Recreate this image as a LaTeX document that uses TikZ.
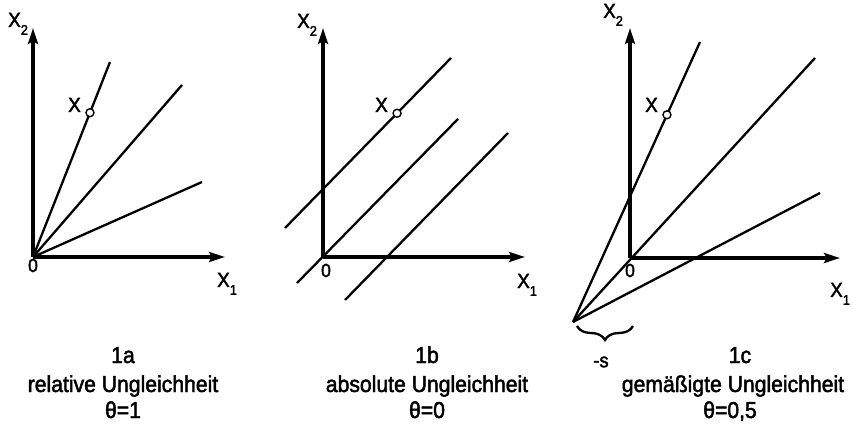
\documentclass[tikz,border=0pt]{standalone}
\usepackage{fontspec}
\setmainfont{Liberation Sans}[FakeStretch=0.92,FakeBold=2]
\usetikzlibrary{arrows.meta,decorations.pathreplacing,calc}
\newcommand{\mysub}[1]{\raisebox{-0.38em}{\fontsize{14}{14}\selectfont #1}}
\begin{document}
\begin{tikzpicture}[x=1pt,y=1pt,
  axisline/.style={line width=3.4pt,-{Stealth[length=16pt,width=10pt,inset=3pt]}},
  rayline/.style={line width=2.3pt},
  dotpt/.style={circle,draw,fill=white,line width=1.4pt,inner sep=0pt,minimum size=8pt},
  axlab/.style={font=\fontsize{20.5}{20.5}\selectfont,inner sep=0pt,anchor=base west},
  zerolab/.style={font=\fontsize{19}{19}\selectfont,inner sep=0pt,anchor=base},
  captxt/.style={font=\fontsize{23}{23}\selectfont,inner sep=0pt,anchor=base}]
\useasboundingbox (0,0) rectangle (853,423);

% ---------- panel 1a ----------
\coordinate (Oa) at (33,166);
\coordinate (Ya) at (33,395);
\coordinate (Xa) at (225,166);
\coordinate (a1) at (110,361);
\coordinate (a2) at (182,338);
\coordinate (a3) at (202,241);
\draw[rayline] (Oa) -- (a1);
\draw[rayline] (Oa) -- (a2);
\draw[rayline] (Oa) -- (a3);
\draw[axisline] (Oa) -- (Ya);
\draw[axisline] (Oa) -- (Xa);
\node[dotpt] (pa) at ($(Oa)!0.74!(a1)$) {};
\node[axlab] (xla) at (68,311) {X};
\node[axlab] (x2a) at (8,396) {X\mysub{2}};
\node[axlab] (x1a) at (217,136) {X\mysub{1}};
\node[zerolab] (za) at (33,151) {0};
\node[captxt] (ca1) at (123,60) {1a};
\node[captxt] (ca2) at (123,31) {relative Ungleichheit};
\node[captxt] (ca3) at (123,5) {θ=1};

% ---------- panel 1b ----------
\coordinate (Ob) at (323,166);
\coordinate (Yb) at (323,395);
\coordinate (Xb) at (525,166);
\coordinate (b1s) at (285,195);
\coordinate (b1e) at (451,365);
\coordinate (b2s) at (297,140);
\coordinate (b2e) at (458,304);
\coordinate (b3s) at (345,123);
\coordinate (b3e) at (508,290);
\draw[rayline] (b1s) -- (b1e);
\draw[rayline] (b2s) -- (b2e);
\draw[rayline] (b3s) -- (b3e);
\draw[axisline] (Ob) -- (Yb);
\draw[axisline] (Ob) -- (Xb);
\node[dotpt] (pb) at ($(b1s)!0.675!(b1e)$) {};
\node[axlab] (xlb) at (375,311) {X};
\node[axlab] (x2b) at (297,395) {X\mysub{2}};
\node[axlab] (x1b) at (517,135) {X\mysub{1}};
\node[zerolab] (zb) at (326,146) {0};
\node[captxt] (cb1) at (427,60) {1b};
\node[captxt] (cb2) at (427,31) {absolute Ungleichheit};
\node[captxt] (cb3) at (427,5) {θ=0};

% ---------- panel 1c ----------
\coordinate (Oc) at (630,165);
\coordinate (Yc) at (630,395);
\coordinate (Xc) at (840,165);
\coordinate (Ac) at (573,101);
\coordinate (c1) at (700,381);
\coordinate (c2) at (815,365);
\coordinate (c3) at (820,230);
\draw[rayline] (Ac) -- (c1);
\draw[rayline] (Ac) -- (c2);
\draw[rayline] (Ac) -- (c3);
\draw[axisline] (Oc) -- (Yc);
\draw[axisline] (Oc) -- (Xc);
\node[dotpt] (pc) at ($(Ac)!0.74!(c1)$) {};
\node[axlab] (xlc) at (645,311) {X};
\node[axlab] (x2c) at (603,405) {X\mysub{2}};
\node[axlab] (x1c) at (830,126) {X\mysub{1}};
\node[zerolab] (zc) at (630,146) {0};
\coordinate (bl) at (577,97);
\coordinate (br) at (633,97);
\draw[line width=2.3pt,decorate,decoration={brace,mirror,amplitude=14pt}] (bl) -- (br);
\node[font=\fontsize{20}{20}\selectfont,inner sep=0pt] (s) at (601,61) {-s};
\node[captxt] (cc1) at (740,60) {1c};
\node[captxt] (cc2) at (733,31) {gemäßigte Ungleichheit};
\node[captxt] (cc3) at (730,5) {θ=0,5};
\end{tikzpicture}
\end{document}
